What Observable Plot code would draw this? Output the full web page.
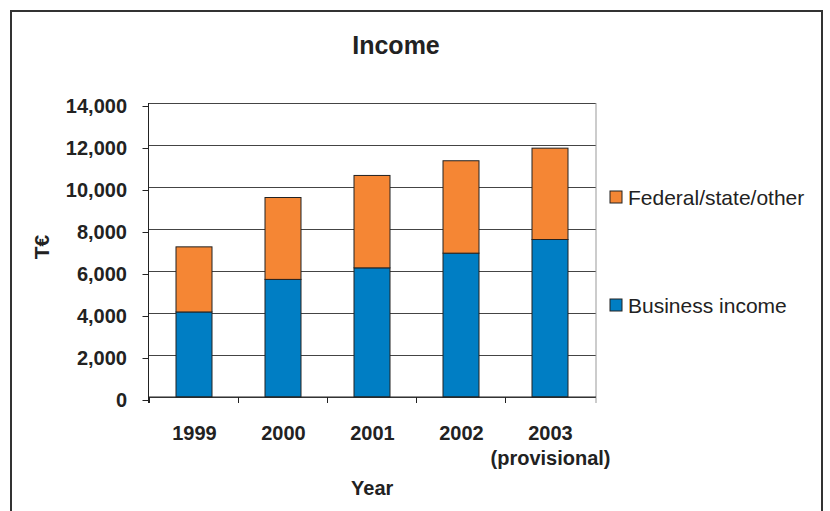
<!DOCTYPE html>
<html><head><meta charset="utf-8">
<script src="https://cdn.jsdelivr.net/npm/d3@7"></script>
<script src="https://cdn.jsdelivr.net/npm/@observablehq/plot@0.6"></script>
<style>body{margin:0;background:#fff} svg{display:block}</style>
</head><body><div id="chart"></div>
<script>
const years = ["1999","2000","2001","2002","2003"];
const yearLabels = ["1999","2000","2001","2002","2003\n(provisional)"];
const business = [4050, 5600, 6150, 6850, 7500];
const federal = [3100, 3900, 4400, 4400, 4350];
const seriesNames = ["Business income","Federal/state/other"];
const seriesColors = ["#007EC4","#F58634"];
const yTicks = [0,2000,4000,6000,8000,10000,12000,14000];
const titleText = "Income";
const yLabelText = "T€";
const xLabelText = "Year";

const data = years.flatMap((y,i)=>[
  {year:y, series:seriesNames[0], value:business[i]},
  {year:y, series:seriesNames[1], value:federal[i]}
]);

const font = "'Liberation Sans', Arial, Helvetica, sans-serif";
const chart = Plot.plot({
  width:830, height:511,
  marginLeft:148.5, marginRight:234, marginTop:103, marginBottom:114,
  style:{fontFamily:font, background:"white", overflow:"visible"},
  x:{domain:years, paddingInner:0.6, paddingOuter:0.3, axis:null},
  y:{domain:[0,14000], axis:null},
  color:{domain:seriesNames, range:seriesColors},
  marks:[
    Plot.gridY(yTicks, {stroke:"#444", strokeOpacity:1, strokeWidth:1}),
    Plot.barY(data, {x:"year", y:"value", fill:"series", stroke:"#222", strokeWidth:1, order:seriesNames}),
    Plot.axisY(yTicks, {tickSize:6, tickPadding:16, tickFormat:d3.format(","), fontSize:20, fontWeight:"bold", color:"#222", dy:3, label:null}),
    Plot.text(years, {x:d=>d, text:d=>yearLabels[years.indexOf(d)], frameAnchor:"bottom", lineAnchor:"top", dy:25, lineHeight:1.25, fontSize:20, fontWeight:"bold", fill:"#222"})
  ]
});

const svg = d3.select(chart);
const xs = chart.scale("x");
const ys = chart.scale("y");
const x0 = 148.5, x1 = 830 - 234;
const yTop = ys.apply(14000), yBot = ys.apply(0);
const step = xs.step, bw = xs.bandwidth;

// plot area right border
svg.append("line").attr("x1",x1).attr("x2",x1).attr("y1",yTop).attr("y2",yBot+6).attr("stroke","#999");
// left axis line
svg.append("line").attr("x1",x0).attr("x2",x0).attr("y1",yTop).attr("y2",yBot+6).attr("stroke","#222");
// x tick marks at band boundaries
years.forEach(d=>{
  const b = xs.apply(d) - (step - bw)/2;
  svg.append("line").attr("x1",b).attr("x2",b).attr("y1",yBot).attr("y2",yBot+6).attr("stroke","#222");
});
svg.append("line").attr("x1",x0).attr("x2",x1).attr("y1",yBot).attr("y2",yBot).attr("stroke","#222");

// outer frame
svg.append("rect").attr("x",11).attr("y",11).attr("width",811).attr("height",530)
  .attr("fill","none").attr("stroke","#333").attr("stroke-width",2);

// title
svg.append("text").attr("x",396).attr("y",54).attr("text-anchor","middle")
  .attr("font-family",font).attr("font-size",25).attr("font-weight","bold").attr("fill","#222").text(titleText);
// y label
svg.append("text").attr("transform","translate(49,247) rotate(-90)").attr("text-anchor","middle")
  .attr("font-family",font).attr("font-size",21).attr("font-weight","bold").attr("fill","#222").text(yLabelText);
// x label
svg.append("text").attr("x",(x0+x1)/2).attr("y",495).attr("text-anchor","middle")
  .attr("font-family",font).attr("font-size",20).attr("font-weight","bold").attr("fill","#222").text(xLabelText);

// legend (Federal on top, Business below)
const legendItems = [
  {name:seriesNames[1], color:seriesColors[1], y:197},
  {name:seriesNames[0], color:seriesColors[0], y:305}
];
legendItems.forEach(it=>{
  svg.append("rect").attr("x",610).attr("y",it.y-6).attr("width",12).attr("height",12)
    .attr("fill",it.color).attr("stroke","#222").attr("stroke-width",1);
  svg.append("text").attr("x",628).attr("y",it.y+8).attr("text-anchor","start")
    .attr("font-family",font).attr("font-size",21).attr("fill","#222").text(it.name);
});

document.getElementById("chart").append(chart);
</script>
</body></html>
